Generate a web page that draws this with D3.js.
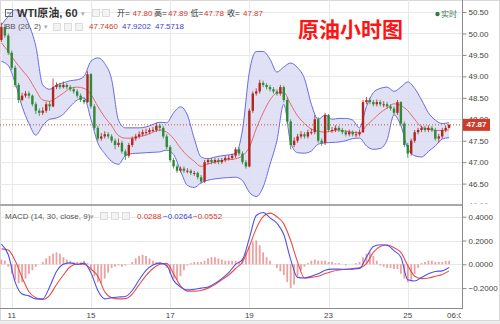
<!DOCTYPE html>
<html>
<head>
<meta charset="utf-8">
<script src="https://cdn.jsdelivr.net/npm/d3@7"></script>
<style>
  body { margin: 0; background: #fff; }
  svg { display: block; font-family: 'Liberation Sans', 'Noto Sans CJK SC', sans-serif; }
</style>
</head>
<body>
<svg></svg>
<script>
// hourly-ish bars, one entry per bar (11th .. 26th 06:00)
let opens = [
  49.85, 50.15, 49.95, 49.55, 49.2, 48.8, 48.45, 48.55, 48.6, 48.55,
  48.35, 48.2, 48.15, 48.2, 48.35, 48.3, 48.75, 48.8, 48.75, 48.8,
  48.75, 48.7, 48.65, 48.55, 48.45, 48.4, 49.05, 48.3, 47.8, 47.55,
  47.6, 47.65, 47.6, 47.5, 47.4, 47.45, 47.25, 47.15, 47.4, 47.55,
  47.6, 47.65, 47.7, 47.7, 47.75, 47.75, 47.85, 47.8, 47.6, 47.35,
  47.05, 46.9, 46.8, 46.85, 46.8, 46.8, 46.75, 46.75, 46.65, 46.55,
  47.0, 47.05, 47.0, 47.05, 47.0, 47.05, 47.1, 47.1, 47.15, 47.3,
  47.2, 47.0, 46.9, 48.2, 48.6, 48.65, 48.85, 48.8, 48.75, 48.7,
  48.65, 48.6, 48.75, 48.45, 47.95, 47.4, 47.5, 47.6, 47.65, 47.6,
  47.7, 47.7, 48.0, 47.5, 47.45, 48.1, 47.75, 47.75, 47.8, 47.75,
  47.7, 47.65, 47.7, 47.65, 47.65, 47.7, 48.4, 48.45, 48.4, 48.35,
  48.4, 48.35, 48.35, 48.3, 48.25, 48.15, 48.4, 47.9, 47.4, 47.2,
  47.5, 47.7, 47.75, 47.8, 47.75, 47.8, 47.75, 47.55, 47.6, 47.75,
  47.8
]
let highs = [
  50.25, 50.22, 50.0, 49.6, 49.25, 48.85, 48.62, 48.66, 48.65, 48.58,
  48.4, 48.25, 48.28, 48.4, 48.42, 48.95, 48.86, 48.85, 48.88, 48.84,
  48.8, 48.75, 48.7, 48.6, 48.5, 49.12, 49.08, 48.35, 47.85, 47.68,
  47.72, 47.7, 47.65, 47.55, 47.55, 47.5, 47.3, 47.45, 47.6, 47.66,
  47.72, 47.76, 47.78, 47.8, 47.82, 47.92, 47.9, 47.84, 47.65, 47.4,
  47.1, 46.95, 46.9, 46.9, 46.86, 46.84, 46.8, 46.78, 46.7, 47.05,
  47.1, 47.1, 47.1, 47.1, 47.1, 47.15, 47.16, 47.2, 47.35, 47.35,
  47.25, 47.05, 48.25, 48.65, 48.72, 48.92, 48.9, 48.84, 48.8, 48.75,
  48.7, 48.8, 48.78, 48.5, 48.0, 47.58, 47.66, 47.72, 47.7, 47.76,
  47.78, 48.1, 48.05, 47.55, 48.15, 48.12, 47.82, 47.86, 47.85, 47.8,
  47.75, 47.76, 47.74, 47.72, 47.76, 48.45, 48.52, 48.5, 48.45, 48.46,
  48.45, 48.42, 48.4, 48.35, 48.3, 48.45, 48.42, 47.95, 47.45, 47.55,
  47.75, 47.8, 47.85, 47.85, 47.86, 47.84, 47.8, 47.66, 47.8, 47.86,
  47.89
]
let lows = [
  49.8, 49.9, 49.5, 49.15, 48.75, 48.38, 48.42, 48.5, 48.48, 48.3,
  48.12, 48.08, 48.1, 48.15, 48.2, 48.28, 48.7, 48.7, 48.72, 48.7,
  48.65, 48.6, 48.5, 48.4, 48.35, 48.38, 48.25, 47.75, 47.5, 47.5,
  47.55, 47.55, 47.45, 47.3, 47.35, 47.2, 47.05, 47.1, 47.35, 47.5,
  47.55, 47.6, 47.64, 47.65, 47.7, 47.7, 47.72, 47.55, 47.3, 47.0,
  46.85, 46.75, 46.76, 46.75, 46.74, 46.7, 46.68, 46.6, 46.5, 46.52,
  46.95, 46.95, 46.96, 46.95, 46.96, 47.0, 47.04, 47.05, 47.1, 47.15,
  46.95, 46.85, 46.88, 48.15, 48.55, 48.6, 48.75, 48.7, 48.65, 48.6,
  48.55, 48.55, 48.4, 47.9, 47.3, 47.35, 47.45, 47.55, 47.55, 47.55,
  47.64, 47.65, 47.45, 47.38, 47.4, 47.7, 47.68, 47.7, 47.7, 47.65,
  47.6, 47.6, 47.6, 47.58, 47.6, 47.68, 48.35, 48.35, 48.3, 48.3,
  48.3, 48.28, 48.25, 48.2, 48.1, 48.1, 47.85, 47.35, 47.1, 47.15,
  47.45, 47.65, 47.7, 47.7, 47.7, 47.7, 47.5, 47.45, 47.55, 47.7,
  47.78
]
let closes = [
  50.15, 49.95, 49.55, 49.2, 48.8, 48.45, 48.55, 48.6, 48.55, 48.35,
  48.2, 48.15, 48.2, 48.35, 48.3, 48.75, 48.8, 48.75, 48.8, 48.75,
  48.7, 48.65, 48.55, 48.45, 48.4, 49.05, 48.3, 47.8, 47.55, 47.6,
  47.65, 47.6, 47.5, 47.4, 47.45, 47.25, 47.15, 47.4, 47.55, 47.6,
  47.65, 47.7, 47.7, 47.75, 47.75, 47.85, 47.8, 47.6, 47.35, 47.05,
  46.9, 46.8, 46.85, 46.8, 46.8, 46.75, 46.75, 46.65, 46.55, 47.0,
  47.05, 47.0, 47.05, 47.0, 47.05, 47.1, 47.1, 47.15, 47.3, 47.2,
  47.0, 46.9, 48.2, 48.6, 48.65, 48.85, 48.8, 48.75, 48.7, 48.65,
  48.6, 48.75, 48.45, 47.95, 47.4, 47.5, 47.6, 47.65, 47.6, 47.7,
  47.7, 48.0, 47.5, 47.45, 48.1, 47.75, 47.75, 47.8, 47.75, 47.7,
  47.65, 47.7, 47.65, 47.65, 47.7, 48.4, 48.45, 48.4, 48.35, 48.4,
  48.35, 48.35, 48.3, 48.25, 48.15, 48.4, 47.9, 47.4, 47.2, 47.5,
  47.7, 47.75, 47.8, 47.75, 47.8, 47.75, 47.55, 47.6, 47.75, 47.8,
  47.87
]

// bollinger (20, 2), read every 2nd bar
let bbUpper = [
  50.2, 50.4, 50.55, 50.5, 50.2, 49.7, 48.8, 48.7, 48.8, 48.85,
  48.9, 48.92, 49.0, 49.35, 49.43, 49.3, 48.93, 47.98, 47.8, 47.8,
  47.8, 47.82, 47.88, 47.93, 47.92, 48.15, 48.29, 48.1, 47.55, 47.12,
  47.08, 47.12, 47.15, 47.17, 47.2, 47.75, 49.1, 49.58, 49.58, 49.4,
  49.1, 49.22, 49.31, 49.2, 48.95, 48.35, 48.0, 48.1, 48.0, 48.02,
  48.02, 47.98, 47.8, 48.3, 48.62, 48.72, 48.75, 48.65, 48.75, 48.87,
  48.72, 48.45, 48.15, 47.98, 47.9, 47.92
]
let bbMid = [
  49.78, 49.58, 49.35, 49.15, 48.95, 48.68, 48.45, 48.42, 48.5, 48.61,
  48.72, 48.75, 48.72, 48.58, 48.3, 48.05, 47.85, 47.62, 47.56, 47.56,
  47.6, 47.63, 47.7, 47.75, 47.7, 47.55, 47.33, 47.15, 47.02, 46.9,
  46.96, 47.0, 47.04, 47.06, 47.08, 47.15, 47.35, 47.78, 48.15, 48.45,
  48.61, 48.62, 48.35, 48.08, 47.9, 47.77, 47.72, 47.7, 47.73, 47.75,
  47.72, 47.7, 47.68, 47.85, 48.0, 48.15, 48.26, 48.36, 48.32, 48.2,
  48.0, 47.82, 47.77, 47.74, 47.74, 47.75
]
let bbLower = [
  49.35, 49.25, 48.85, 48.3, 47.9, 47.63, 47.85, 48.0, 48.03, 48.12,
  48.3, 48.45, 48.5, 48.0, 47.45, 47.2, 47.02, 46.95, 47.15, 47.2,
  47.21, 47.22, 47.23, 47.24, 47.28, 47.18, 46.8, 46.46, 46.41, 46.52,
  46.58, 46.61, 46.63, 46.64, 46.65, 46.57, 46.3, 46.2, 46.42, 46.95,
  47.5, 48.35, 47.45, 47.22, 47.21, 47.26, 47.42, 47.45, 47.46, 47.47,
  47.5, 47.55, 47.56, 47.38, 47.3, 47.32, 47.52, 48.1, 47.85, 47.32,
  47.15, 47.12, 47.25, 47.38, 47.54, 47.57
]

// MACD (14, 30, close, 9), lines read every 2nd bar, histogram every bar
let macdLine = [
  0.17, 0.08, -0.15, -0.25, -0.265, -0.29, -0.29, -0.19, -0.06, 0.0,
  0.012, 0.0, 0.01, -0.07, -0.22, -0.29, -0.28, -0.275, -0.27, -0.22,
  -0.13, -0.05, -0.005, 0.01, -0.01, -0.135, -0.19, -0.215, -0.21, -0.2,
  -0.19, -0.16, -0.12, -0.07, 0.0, 0.04, 0.22, 0.41, 0.435, 0.39,
  0.345, 0.25, 0.04, -0.11, -0.115, -0.1, -0.08, -0.05, -0.04, -0.04,
  -0.042, -0.04, -0.034, 0.06, 0.15, 0.165, 0.16, 0.115, 0.06, -0.13,
  -0.14, -0.11, -0.08, -0.06, -0.055, -0.026
]
let signalLine = [
  0.13, 0.12, 0.03, -0.11, -0.23, -0.28, -0.295, -0.26, -0.17, -0.09,
  -0.02, 0.0, 0.0, -0.04, -0.1, -0.23, -0.28, -0.29, -0.288, -0.25,
  -0.17, -0.095, -0.035, 0.0, 0.008, -0.08, -0.18, -0.225, -0.225, -0.22,
  -0.2, -0.17, -0.13, -0.09, -0.035, 0.02, 0.15, 0.3, 0.4, 0.43,
  0.4, 0.34, 0.2, 0.02, -0.115, -0.11, -0.1, -0.078, -0.06, -0.048,
  -0.042, -0.036, -0.03, 0.005, 0.1, 0.15, 0.162, 0.14, 0.1, -0.01,
  -0.1, -0.12, -0.115, -0.1, -0.085, -0.055
]
let histogram = [
  0.04, 0.03, -0.02, -0.08, -0.13, -0.16, -0.15, -0.12, -0.08, -0.05,
  -0.02, 0.0, 0.02, 0.05, 0.07, 0.09, 0.1, 0.09, 0.06, 0.04,
  0.03, 0.02, 0.02, 0.02, 0.03, 0.01, -0.05, -0.1, -0.15, -0.16,
  -0.12, -0.07, -0.03, -0.02, -0.01, -0.02, -0.01, 0.0, 0.02, 0.05,
  0.07, 0.08, 0.07, 0.05, 0.03, 0.02, 0.02, 0.01, -0.03, -0.08,
  -0.12, -0.13, -0.1, -0.05, -0.01, 0.01, 0.02, 0.02, 0.02, 0.03,
  0.05, 0.06, 0.06, 0.05, 0.04, 0.03, 0.03, 0.03, 0.03, 0.02,
  0.05, 0.1, 0.15, 0.19, 0.2, 0.16, 0.1, 0.06, 0.03, 0.0,
  -0.03, -0.06, -0.09, -0.15, -0.2, -0.17, -0.1, -0.05, -0.02, 0.01,
  0.03, 0.04, 0.03, 0.03, 0.03, 0.02, 0.02, 0.01, 0.01, 0.0,
  -0.01, 0.0, 0.0, 0.01, 0.02, 0.06, 0.09, 0.1, 0.07, 0.03,
  -0.01, -0.02, -0.03, -0.03, -0.04, -0.04, -0.08, -0.12, -0.15, -0.13,
  -0.08, -0.03, 0.01, 0.02, 0.03, 0.03, 0.02, 0.02, 0.02, 0.03,
  0.029
]

let bbLegend = [ 47.7460, 47.9202, 47.5718 ]
let macdLegend = [ 0.0288, -0.0264, -0.0552 ]

let dateTicks = [ 3, 26, 49, 72, 95, 118 ]
let dateLabels = [ '11', '15', '17', '19', '23', '25' ]
let lastLabel = '06:00'
let priceTicks = [ 46, 46.5, 47, 47.5, 48, 48.5, 49, 49.5, 50, 50.5 ]
let macdTicks = [ -0.2, 0, 0.2, 0.4 ]

let width = 500
let height = 324
let plotRight = 462
let mainBottom = 204
let macdTop = 206
let macdBottom = 308

let upColor = '#b3261e'
let downColor = '#2f8a35'
let red = '#d9342b'
let blue = '#4040d0'

const xScale =
d3.scaleLinear()
  .domain( [ 0, closes.length - 1 ] )
  .range( [ 1.4, 449.1 ] )

const yPrice =
d3.scaleLinear()
  .domain( [ 46.025, 50.78 ] )
  .range( [ mainBottom, 0 ] )

const yMacd =
d3.scaleLinear()
  .domain( [ -0.367, 0.49 ] )
  .range( [ macdBottom, macdTop ] )

let chart =
d3.select( 'svg' )
  .attr( 'width', width )
  .attr( 'height', height )

let defs = chart.append( 'defs' )
defs.append( 'clipPath' ).attr( 'id', 'clipMain' )
  .append( 'rect' ).attr( 'x', 0 ).attr( 'y', 0 ).attr( 'width', plotRight ).attr( 'height', mainBottom )
defs.append( 'clipPath' ).attr( 'id', 'clipMacd' )
  .append( 'rect' ).attr( 'x', 0 ).attr( 'y', macdTop ).attr( 'width', plotRight ).attr( 'height', macdBottom - macdTop )
defs.append( 'clipPath' ).attr( 'id', 'clipAxis' )
  .append( 'rect' ).attr( 'x', plotRight ).attr( 'y', 0 ).attr( 'width', 40 ).attr( 'height', mainBottom - 0.5 )
defs.append( 'clipPath' ).attr( 'id', 'clipDates' )
  .append( 'rect' ).attr( 'x', 0 ).attr( 'y', macdBottom ).attr( 'width', plotRight - 1 ).attr( 'height', 14 )

// background
chart.append( 'rect' )
  .attr( 'width', width ).attr( 'height', height ).attr( 'fill', '#fff' )
chart.append( 'rect' )
  .attr( 'x', 0 ).attr( 'y', 320 ).attr( 'width', width ).attr( 'height', 4 ).attr( 'fill', '#ececec' )
chart.append( 'rect' )
  .attr( 'x', 0.5 ).attr( 'y', 0.5 ).attr( 'width', width - 1 ).attr( 'height', 320 )
  .attr( 'fill', 'none' ).attr( 'stroke', '#d8d8d8' )

// grid
let grid = chart.append( 'g' ).attr( 'stroke', '#e8e8e8' ).attr( 'stroke-width', 1 )

grid.selectAll( '.gp' )
  .data( priceTicks.filter( d => yPrice( d ) < mainBottom - 1 ) )
  .enter()
  .append( 'line' )
  .attr( 'x1', 0 ).attr( 'x2', plotRight )
  .attr( 'y1', d => Math.round( yPrice( d ) ) + 0.5 )
  .attr( 'y2', d => Math.round( yPrice( d ) ) + 0.5 )

grid.selectAll( '.gm' )
  .data( macdTicks )
  .enter()
  .append( 'line' )
  .attr( 'x1', 0 ).attr( 'x2', plotRight )
  .attr( 'y1', d => Math.round( yMacd( d ) ) + 0.5 )
  .attr( 'y2', d => Math.round( yMacd( d ) ) + 0.5 )

grid.selectAll( '.gx' )
  .data( dateTicks )
  .enter()
  .append( 'line' )
  .attr( 'x1', d => Math.round( xScale( d ) ) + 0.5 )
  .attr( 'x2', d => Math.round( xScale( d ) ) + 0.5 )
  .attr( 'y1', 0 ).attr( 'y2', macdBottom )

// main panel
let main = chart.append( 'g' ).attr( 'clip-path', 'url(#clipMain)' )

let bands = bbUpper.map( ( u, k ) => ( { i: k * 2, up: u, mid: bbMid[ k ], lo: bbLower[ k ] } ) )

main.append( 'path' )
  .datum( bands )
  .attr( 'fill', '#dcdcf3' )
  .attr( 'fill-opacity', 0.85 )
  .attr( 'd', d3.area()
    .x( d => xScale( d.i ) )
    .y0( d => yPrice( d.lo ) )
    .y1( d => yPrice( d.up ) )
    .curve( d3.curveMonotoneX ) )

let bandLine = key => d3.line()
  .x( d => xScale( d.i ) )
  .y( d => yPrice( d[ key ] ) )
  .curve( d3.curveMonotoneX )

main.append( 'path' ).datum( bands )
  .attr( 'fill', 'none' ).attr( 'stroke', '#6a6ae0' ).attr( 'stroke-width', 1 )
  .attr( 'd', bandLine( 'up' ) )
main.append( 'path' ).datum( bands )
  .attr( 'fill', 'none' ).attr( 'stroke', '#6a6ae0' ).attr( 'stroke-width', 1 )
  .attr( 'd', bandLine( 'lo' ) )
main.append( 'path' ).datum( bands )
  .attr( 'fill', 'none' ).attr( 'stroke', '#e26a6a' ).attr( 'stroke-width', 1 )
  .attr( 'd', bandLine( 'mid' ) )

// last price dotted line
let lastPrice = closes[ closes.length - 1 ]
main.append( 'line' )
  .attr( 'x1', 0 ).attr( 'x2', plotRight )
  .attr( 'y1', yPrice( lastPrice ) ).attr( 'y2', yPrice( lastPrice ) )
  .attr( 'stroke', '#c8513f' ).attr( 'stroke-dasharray', '1,2' )

let candles = closes.map( ( c, i ) => ( { i: i, o: opens[ i ], h: highs[ i ], l: lows[ i ], c: c } ) )
let colorOf = d => d.c >= d.o ? upColor : downColor

main.selectAll( '.wick' )
  .data( candles )
  .enter()
  .append( 'line' )
  .attr( 'x1', d => xScale( d.i ) ).attr( 'x2', d => xScale( d.i ) )
  .attr( 'y1', d => yPrice( d.h ) ).attr( 'y2', d => yPrice( d.l ) )
  .attr( 'stroke', colorOf ).attr( 'stroke-width', 0.8 )

main.selectAll( '.body' )
  .data( candles )
  .enter()
  .append( 'rect' )
  .attr( 'x', d => xScale( d.i ) - 1.2 )
  .attr( 'width', 2.4 )
  .attr( 'y', d => yPrice( Math.max( d.o, d.c ) ) )
  .attr( 'height', d => Math.max( 1, Math.abs( yPrice( d.o ) - yPrice( d.c ) ) ) )
  .attr( 'fill', colorOf )

// macd panel
let macd = chart.append( 'g' ).attr( 'clip-path', 'url(#clipMacd)' )

macd.selectAll( '.hist' )
  .data( histogram )
  .enter()
  .append( 'rect' )
  .attr( 'x', ( d, i ) => xScale( i ) - 0.9 )
  .attr( 'width', 1.8 )
  .attr( 'y', d => yMacd( Math.max( 0, d ) ) )
  .attr( 'height', d => Math.abs( yMacd( d ) - yMacd( 0 ) ) )
  .attr( 'fill', '#e58a8a' )
  .attr( 'fill-opacity', 0.8 )

let macdPts = macdLine.map( ( v, k ) => ( { i: k * 2, m: v, s: signalLine[ k ] } ) )

macd.append( 'path' ).datum( macdPts )
  .attr( 'fill', 'none' ).attr( 'stroke', '#e84c4c' ).attr( 'stroke-width', 1.1 )
  .attr( 'd', d3.line().x( d => xScale( d.i ) ).y( d => yMacd( d.s ) ).curve( d3.curveMonotoneX ) )
macd.append( 'path' ).datum( macdPts )
  .attr( 'fill', 'none' ).attr( 'stroke', '#5050e8' ).attr( 'stroke-width', 1.1 )
  .attr( 'd', d3.line().x( d => xScale( d.i ) ).y( d => yMacd( d.m ) ).curve( d3.curveMonotoneX ) )

// frame lines
chart.append( 'line' )
  .attr( 'x1', 0 ).attr( 'x2', plotRight ).attr( 'y1', 205 ).attr( 'y2', 205 )
  .attr( 'stroke', '#a8a8a8' ).attr( 'stroke-width', 2 )
chart.append( 'line' )
  .attr( 'x1', 0 ).attr( 'x2', plotRight ).attr( 'y1', macdBottom + 0.5 ).attr( 'y2', macdBottom + 0.5 )
  .attr( 'stroke', '#8a8a8a' )
chart.append( 'line' )
  .attr( 'x1', plotRight + 0.5 ).attr( 'x2', plotRight + 0.5 ).attr( 'y1', 0 ).attr( 'y2', macdBottom + 1 )
  .attr( 'stroke', '#8a8a8a' )

// axes
let styleAxis = g => {
  g.select( '.domain' ).remove()
  g.selectAll( '.tick line' ).attr( 'stroke', '#8a8a8a' )
  g.selectAll( '.tick text' ).attr( 'fill', '#444' ).attr( 'font-size', 8 )
    .attr( 'font-family', "'Liberation Sans', sans-serif" )
}

chart.append( 'g' ).attr( 'clip-path', 'url(#clipAxis)' )
  .append( 'g' )
  .attr( 'transform', `translate(${ plotRight + 0.5 },0)` )
  .call( d3.axisRight( yPrice ).tickValues( priceTicks ).tickFormat( d3.format( '.2f' ) ).tickSize( 4 ).tickPadding( 2 ) )
  .call( styleAxis )

chart.append( 'g' )
  .attr( 'transform', `translate(${ plotRight + 0.5 },0)` )
  .call( d3.axisRight( yMacd ).tickValues( macdTicks ).tickFormat( d3.format( '.4f' ) ).tickSize( 4 ).tickPadding( 2 ) )
  .call( styleAxis )

let dates = chart.append( 'g' )
  .attr( 'clip-path', 'url(#clipDates)' )
  .attr( 'font-size', 8 ).attr( 'fill', '#444' )

dates.selectAll( 'text' )
  .data( dateTicks )
  .enter()
  .append( 'text' )
  .attr( 'x', d => xScale( d ) )
  .attr( 'y', 318 )
  .attr( 'text-anchor', 'middle' )
  .text( ( d, i ) => dateLabels[ i ] )

dates.append( 'text' )
  .attr( 'x', xScale( closes.length - 1 ) - 2 )
  .attr( 'y', 318 )
  .text( lastLabel )

// last price tag
chart.append( 'rect' )
  .attr( 'x', plotRight + 1 ).attr( 'y', yPrice( lastPrice ) - 6 )
  .attr( 'width', 27 ).attr( 'height', 12 )
  .attr( 'fill', '#cf3b2a' )
chart.append( 'text' )
  .attr( 'x', plotRight + 14.5 ).attr( 'y', yPrice( lastPrice ) )
  .attr( 'text-anchor', 'middle' ).attr( 'dominant-baseline', 'central' )
  .attr( 'font-size', 8 ).attr( 'font-weight', 'bold' ).attr( 'fill', '#fff' )
  .text( d3.format( '.2f' )( lastPrice ) )

// legends
let button = ( x, y ) => chart.append( 'rect' )
  .attr( 'x', x ).attr( 'y', y ).attr( 'width', 7 ).attr( 'height', 7 )
  .attr( 'fill', '#f3f3f3' ).attr( 'stroke', '#d4d4d4' ).attr( 'stroke-width', 0.8 )

let label = ( x, y, txt, color, size ) => chart.append( 'text' )
  .attr( 'x', x ).attr( 'y', y )
  .attr( 'dominant-baseline', 'central' )
  .attr( 'font-size', size || 8 )
  .attr( 'fill', color )
  .text( txt )

// header line 1
chart.append( 'rect' )
  .attr( 'x', 5.5 ).attr( 'y', 9.5 ).attr( 'width', 7 ).attr( 'height', 7 )
  .attr( 'fill', 'none' ).attr( 'stroke', '#666' )
chart.append( 'line' )
  .attr( 'x1', 7 ).attr( 'x2', 11 ).attr( 'y1', 13 ).attr( 'y2', 13 ).attr( 'stroke', '#666' )
label( 17, 13, 'WTI原油, 60', '#333', 11 ).attr( 'font-weight', 'bold' )
label( 81, 13, '▾', '#aaa', 7 )
button( 92.5, 9.5 )
button( 102.5, 9.5 )

let red8 = '#d03a2f'
let fmt2 = d3.format( '.2f' )
let last = closes.length - 1
let ohlc = [
  [ '开=', 117, '#333' ], [ fmt2( opens[ last ] ), 132.5, red8 ],
  [ '高=', 154, '#333' ], [ fmt2( highs[ last ] ), 168, red8 ],
  [ '低=', 190.5, '#333' ], [ fmt2( lows[ last ] ), 204, red8 ],
  [ '收=', 227, '#333' ], [ fmt2( closes[ last ] ), 243, red8 ]
]
ohlc.forEach( d => label( d[ 1 ], 13, d[ 0 ], d[ 2 ] ) )

chart.append( 'circle' )
  .attr( 'cx', 437.5 ).attr( 'cy', 14 ).attr( 'r', 2.2 ).attr( 'fill', '#2f7a50' )
label( 441, 14, '实时', '#3b7d57' )

chart.append( 'text' )
  .attr( 'x', 298 ).attr( 'y', 28 )
  .attr( 'dominant-baseline', 'central' )
  .attr( 'font-family', "'Noto Sans CJK SC', sans-serif" )
  .attr( 'font-size', 21 ).attr( 'font-weight', 'bold' )
  .attr( 'fill', '#ff1414' )
  .text( '原油小时图' )

// header line 2
label( 5, 26.5, 'BB (20, 2)', '#555' )
label( 44, 26.5, '▾', '#aaa', 7 )
button( 53.5, 23.5 )
button( 64.5, 23.5 )
button( 75.5, 23.5 )
let fmt4 = d3.format( '.4f' )
label( 89, 26.5, fmt4( bbLegend[ 0 ] ), red8 )
label( 122, 26.5, fmt4( bbLegend[ 1 ] ), blue )
label( 155, 26.5, fmt4( bbLegend[ 2 ] ), blue )

// macd legend
label( 5, 216, 'MACD (14, 30, close, 9)', '#555' )
label( 90, 216, '▾', '#aaa', 7 )
button( 100.5, 212.5 )
button( 111.5, 212.5 )
button( 122.5, 212.5 )
label( 137, 216, fmt4( macdLegend[ 0 ] ), red8 )
label( 163, 216, fmt4( macdLegend[ 1 ] ), blue )
label( 193, 216, fmt4( macdLegend[ 2 ] ), red8 )
</script>
</body>
</html>
